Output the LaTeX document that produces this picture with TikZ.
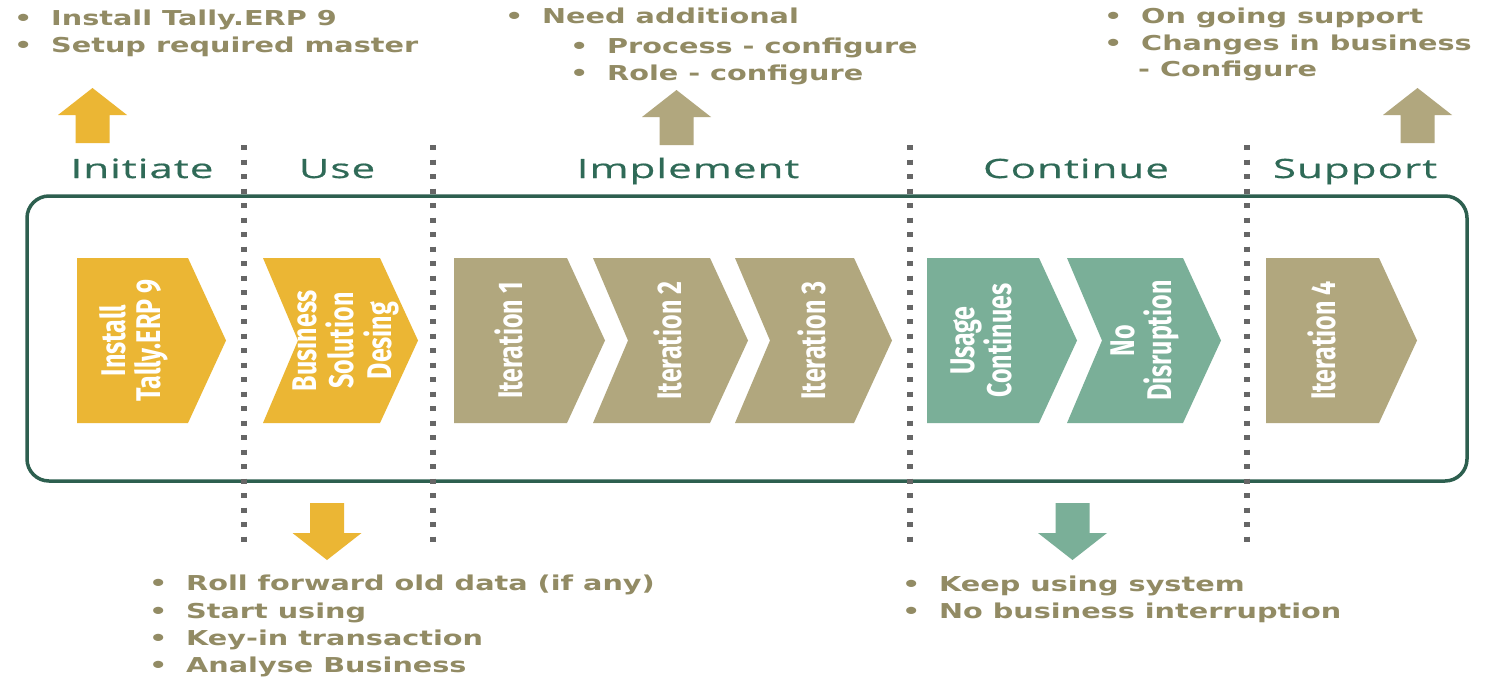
\documentclass[tikz,border=0pt]{standalone}
\usepackage{fontspec}
\usepackage{graphicx}
\newfontfamily\bltfont[FakeStretch=1.40]{DejaVu Sans}
\newfontfamily\hdrfont[FakeStretch=1.58,LetterSpace=4,FakeBold=0.6]{Open Sans}
\newfontfamily\chvfont{Fira Sans}
\definecolor{ylw}{HTML}{EBB634}
\definecolor{olv}{HTML}{B1A77E}
\definecolor{tea}{HTML}{7AAF98}
\definecolor{txt}{HTML}{928B64}
\definecolor{hdg}{HTML}{2F6A57}
\definecolor{frame}{HTML}{2D5F4F}
\definecolor{dotc}{HTML}{666666}
\tikzset{
  bl/.style={anchor=base west, inner sep=0pt, text=txt, font=\bltfont\bfseries\fontsize{20.5}{24}\selectfont},
  hd/.style={anchor=base, inner sep=0pt, text=hdg, font=\hdrfont\fontsize{26.6}{30}\selectfont},
  ct/.style={inner sep=0pt, text=white, font=\chvfont\bfseries\fontsize{25}{24}\selectfont},
  dotline/.style={line width=5.5pt, dash pattern=on 5pt off 9.5pt, color=dotc},
  framebox/.style={draw=frame, line width=3.5pt, rounded corners=22pt},
}
\newcommand\bt[1]{\makebox[37pt][l]{\textbullet}#1}
\newcommand\rt[1]{\scalebox{1.37}[1]{\rotatebox{90}{\begin{tabular}{@{}c@{}}#1\end{tabular}}}}
% chevron: left, tip, notch, colour
\newcommand\chevr[4]{\fill[#4] (#1,258) -- ({#2-38},258) -- (#2,340.5) -- ({#2-38},423) -- (#1,423) -- ({#1+#3},340.5) -- cycle;}
% up arrow: cx, top, bottom, colour
\newcommand\uparr[4]{\fill[#4] (#1,#2) -- ({#1+34.5},{#2+27}) -- ({#1+17},{#2+27}) -- ({#1+17},#3) -- ({#1-17},#3) -- ({#1-17},{#2+27}) -- ({#1-34.5},{#2+27}) -- cycle;}
% down arrow: cx, top, tip, colour
\newcommand\dnarr[4]{\fill[#4] ({#1-17},#2) -- ({#1+17},#2) -- ({#1+17},{#2+30}) -- ({#1+34.5},{#2+30}) -- (#1,#3) -- ({#1-34.5},{#2+30}) -- ({#1-17},{#2+30}) -- cycle;}
\begin{document}
\begin{tikzpicture}[x=1pt,y=-1pt]
\useasboundingbox (0,0) rectangle (1496,678);
\fill[white] (0,0) rectangle (1496,678);

% frame
\draw[framebox] (27,196) rectangle (1467,481);

% chevrons
\chevr{77}{226}{0}{ylw}
\chevr{263}{418}{35}{ylw}
\chevr{454}{605}{0}{olv}
\chevr{593}{748}{35}{olv}
\chevr{735}{892}{35}{olv}
\chevr{927}{1077}{0}{tea}
\chevr{1067}{1221}{35}{tea}
\chevr{1266}{1417}{0}{olv}

\node[ct] (c1) at (135,340.5) {\rt{Install\\Tally.ERP 9}};
\node[ct] (c2) at (345,340.5) {\rt{Business\\Solution\\Desing}};
\node[ct] (c3) at (514,340.5) {\rt{Iteration 1}};
\node[ct] (c4) at (673,340.5) {\rt{Iteration 2}};
\node[ct] (c5) at (817,340.5) {\rt{Iteration 3}};
\node[ct] (c6) at (986,340.5) {\rt{Usage\\Continues}};
\node[ct] (c7) at (1146,340.5) {\rt{No\\Disruption}};
\node[ct] (c8) at (1327,340.5) {\rt{Iteration 4}};

% dotted separators
\foreach \dx in {244,433,910,1247} \draw[dotline] (\dx,145) -- (\dx,545);

% headers
\node[hd] (h1) at (142,178) {Initiate};
\node[hd] (h2) at (337,178) {Use};
\node[hd] (h3) at (688,178) {Implement};
\node[hd] (h4) at (1076,178) {Continue};
\node[hd] (h5) at (1355,178) {Support};

% arrows
\uparr{92.5}{88}{143}{ylw}
\uparr{676.5}{90}{145}{olv}
\uparr{1417.5}{88}{143}{olv}
\dnarr{327}{503}{560}{ylw}
\dnarr{1072.5}{503}{560}{tea}

% top-left text
\node[bl] (a1) at (14,25) {\bt{Install Tally.ERP 9}};
\node[bl] (a2) at (14,52) {\bt{Setup required master}};
% top-middle text
\node[bl] (b1) at (505,23) {\bt{Need additional}};
\node[bl] (b2) at (570,53) {\bt{Process - configure}};
\node[bl] (b3) at (570,80) {\bt{Role - configure}};
% top-right text
\node[bl] (d1) at (1104,23) {\bt{On going support}};
\node[bl] (d2) at (1104,50) {\bt{Changes in business}};
\node[bl] (d3) at (1138,76) {- Configure};
% bottom-left text
\node[bl] (e1) at (149,590) {\bt{Roll forward old data (if any)}};
\node[bl] (e2) at (149,618) {\bt{Start using}};
\node[bl] (e3) at (149,645) {\bt{Key-in transaction}};
\node[bl] (e4) at (149,672) {\bt{Analyse Business}};
% bottom-right text
\node[bl] (f1) at (902,591) {\bt{Keep using system}};
\node[bl] (f2) at (902,618) {\bt{No business interruption}};
\end{tikzpicture}
\end{document}
